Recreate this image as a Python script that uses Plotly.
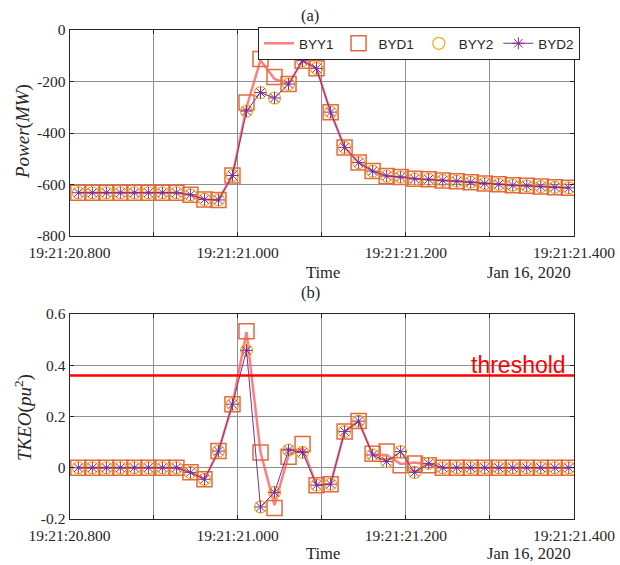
import numpy as np
import pandas as pd
import plotly.graph_objects as go
from plotly.subplots import make_subplots

# ---- data -------------------------------------------------------------
start_time = "2020-01-16 19:21:20.8105"
sample_rate_hz = 60
n_samples = 36

power_byy1 = [-632, -632, -632, -632, -632, -632, -632, -632, -640, -658, -660, -565,
              -300, -117, -190, -210, -119, -149, -319, -456, -515, -548, -567, -571,
              -578, -580, -584, -587, -591, -596, -599, -603, -605, -608, -611, -613]
power_byd1 = [-632, -632, -632, -632, -632, -632, -632, -632, -640, -658, -660, -565,
              -282, -113, -183, -210, -119, -149, -319, -456, -515, -548, -567, -571,
              -578, -580, -584, -587, -591, -596, -599, -603, -605, -608, -611, -613]
power_byy2 = [-632, -632, -632, -632, -632, -632, -632, -632, -640, -658, -660, -565,
              -315, -243, -264, -210, -119, -149, -319, -456, -515, -548, -567, -571,
              -578, -580, -584, -587, -591, -596, -599, -603, -605, -608, -611, -613]
power_byd2 = [-632, -632, -632, -632, -632, -632, -632, -632, -640, -658, -660, -565,
              -315, -243, -264, -210, -119, -149, -319, -456, -515, -548, -567, -571,
              -578, -580, -584, -587, -591, -596, -599, -603, -605, -608, -611, -613]

tkeo_byy1 = [0, 0, 0, 0, 0, 0, 0, 0, -0.018, -0.045, 0.065, 0.248,
             0.530, 0.060, -0.146, 0.048, 0.076, -0.068, -0.064, 0.141, 0.182, 0.052, 0.050, 0.015,
             0.020, 0.012, 0, 0, 0, 0, 0, 0, 0, 0, 0, 0]
tkeo_byd1 = [0, 0, 0, 0, 0, 0, 0, 0, -0.018, -0.045, 0.065, 0.248,
             0.533, 0.060, -0.157, 0.043, 0.093, -0.068, -0.064, 0.141, 0.182, 0.055, 0.063, 0.010,
             0.017, 0.010, 0, 0, 0, 0, 0, 0, 0, 0, 0, 0]
tkeo_byy2 = [0, 0, 0, 0, 0, 0, 0, 0, -0.018, -0.045, 0.065, 0.248,
             0.458, -0.153, -0.096, 0.069, 0.060, -0.068, -0.064, 0.141, 0.182, 0.050, 0.024, 0.063,
             -0.018, 0.017, 0, 0, 0, 0, 0, 0, 0, 0, 0, 0]
tkeo_byd2 = [0, 0, 0, 0, 0, 0, 0, 0, -0.018, -0.045, 0.065, 0.248,
             0.458, -0.153, -0.096, 0.069, 0.060, -0.068, -0.064, 0.141, 0.182, 0.050, 0.024, 0.063,
             -0.018, 0.017, 0, 0, 0, 0, 0, 0, 0, 0, 0, 0]

threshold = 0.36

x_tick_times = ["19:21:20.800", "19:21:20.900", "19:21:21.000", "19:21:21.100",
                "19:21:21.200", "19:21:21.300", "19:21:21.400"]
x_tick_labels = ["19:21:20.800", "", "19:21:21.000", "", "19:21:21.200", "", "19:21:21.400"]
power_ticks = [-800, -600, -400, -200, 0]
power_tick_labels = ["-800", "-600", "-400", "-200", "0"]
tkeo_ticks = [-0.2, 0, 0.2, 0.4, 0.6]
tkeo_tick_labels = ["-0.2", "0", "0.2", "0.4", "0.6"]
date_label = "Jan 16, 2020"

# ---- figure -----------------------------------------------------------
time = pd.Timestamp(start_time) + pd.to_timedelta(np.arange(n_samples) / sample_rate_hz, unit="s")
tick_vals = [pd.Timestamp("2020-01-16 " + t) for t in x_tick_times]

W, H = 620, 565


def px(x):
    return x / W


def py(y):
    return 1 - y / H


SERIF = "Liberation Serif, DejaVu Serif, serif"
SANS = "Liberation Sans, Arial, sans-serif"

C_BYY1 = "rgba(255,105,105,0.85)"
C_BYD1 = "rgb(228,105,62)"
C_BYY2 = "#EDB120"
C_BYD2 = "#7E2F8E"

fig = make_subplots(rows=2, cols=1)

series = [
    ("power", power_byy1, power_byd1, power_byy2, power_byd2, 1),
    ("tkeo", tkeo_byy1, tkeo_byd1, tkeo_byy2, tkeo_byd2, 2),
]
for name, byy1, byd1, byy2, byd2, row in series:
    show = row == 1
    fig.add_trace(go.Scatter(x=time, y=byy1, mode="lines", name="BYY1", showlegend=show,
                             line=dict(color=C_BYY1, width=2.5)), row=row, col=1)
    fig.add_trace(go.Scatter(x=time, y=byd1, mode="markers", name="BYD1", showlegend=show,
                             marker=dict(symbol="square-open", size=15,
                                         line=dict(color=C_BYD1, width=1.5), color=C_BYD1)),
                  row=row, col=1)
    fig.add_trace(go.Scatter(x=time, y=byy2, mode="markers", name="BYY2", showlegend=show,
                             marker=dict(symbol="circle-open", size=12,
                                         line=dict(color=C_BYY2, width=1.2), color=C_BYY2)),
                  row=row, col=1)
    fig.add_trace(go.Scatter(x=time, y=byd2, mode="lines+markers", name="BYD2", showlegend=show,
                             line=dict(color=C_BYD2, width=1),
                             marker=dict(symbol="asterisk-open", size=10,
                                         line=dict(color=C_BYD2, width=1), color=C_BYD2)),
                  row=row, col=1)

# threshold line on the TKEO panel
fig.add_shape(type="line", xref="x2 domain", yref="y2", x0=0, x1=1, y0=threshold, y1=threshold,
              line=dict(color="red", width=2.5))
fig.add_annotation(xref="x2 domain", yref="y2", x=0.988, y=threshold, xanchor="right", yanchor="bottom",
                   text="threshold", showarrow=False, yshift=-4,
                   font=dict(family=SANS, size=23, color="red"))

x_dom = [px(69.5), px(574)]
axis_common = dict(showline=True, linecolor="#262626", linewidth=1, mirror="ticks",
                   ticks="inside", ticklen=4, tickcolor="#262626", automargin=False,
                   showgrid=True, gridcolor="#8f8f8f", gridwidth=1, zeroline=False,
                   tickfont=dict(family=SERIF, size=15.5, color="#262626"))

for ax in ("xaxis", "xaxis2"):
    fig.update_layout({ax: dict(type="date", domain=x_dom,
                                range=[tick_vals[0], tick_vals[-1]],
                                tickmode="array", tickvals=tick_vals, ticktext=x_tick_labels,
                                ticklabelstandoff=2, **axis_common)})

fig.update_layout(
    yaxis=dict(domain=[py(236), py(30)], range=[-800, 0], tickmode="array",
               tickvals=power_ticks, ticktext=power_tick_labels, **axis_common),
    yaxis2=dict(domain=[py(519), py(314)], range=[-0.2, 0.6], tickmode="array",
                tickvals=tkeo_ticks, ticktext=tkeo_tick_labels, **axis_common),
)

text_font = dict(family=SERIF, size=16.5, color="#262626")
annotations = [
    dict(x=px(310), y=py(15), text="(a)"),
    dict(x=px(310), y=py(292), text="(b)"),
    dict(x=px(323), y=py(272), text="Time"),
    dict(x=px(323), y=py(553), text="Time"),
    dict(x=px(529), y=py(272), text=date_label),
    dict(x=px(529), y=py(553), text=date_label),
]
for a in annotations:
    fig.add_annotation(xref="paper", yref="paper", showarrow=False, font=text_font,
                       xanchor="center", yanchor="middle", **a)

ylab_font = dict(family=SERIF, size=19, color="#262626")
fig.add_annotation(xref="paper", yref="paper", x=px(23), y=py(132), textangle=-90,
                   xanchor="center", yanchor="middle",
                   showarrow=False, font=ylab_font, text="<i>Power</i>(<i>MW</i>)")
fig.add_annotation(xref="paper", yref="paper", x=px(23), y=py(418), textangle=-90,
                   xanchor="center", yanchor="middle",
                   showarrow=False, font=ylab_font, text="<i>TKEO</i>(<i>pu</i><sup>2</sup>)")

fig.update_layout(
    width=W, height=H,
    margin=dict(l=0, r=0, t=0, b=0, autoexpand=False),
    paper_bgcolor="white", plot_bgcolor="white",
    showlegend=True,
    legend=dict(orientation="h", x=px(580), xanchor="right", y=py(27), yanchor="top",
                bgcolor="white", bordercolor="#262626", borderwidth=1,
                font=dict(family=SANS, size=13.5, color="#262626"),
                itemwidth=30, tracegroupgap=0),
)

fig.write_html("out.html")
